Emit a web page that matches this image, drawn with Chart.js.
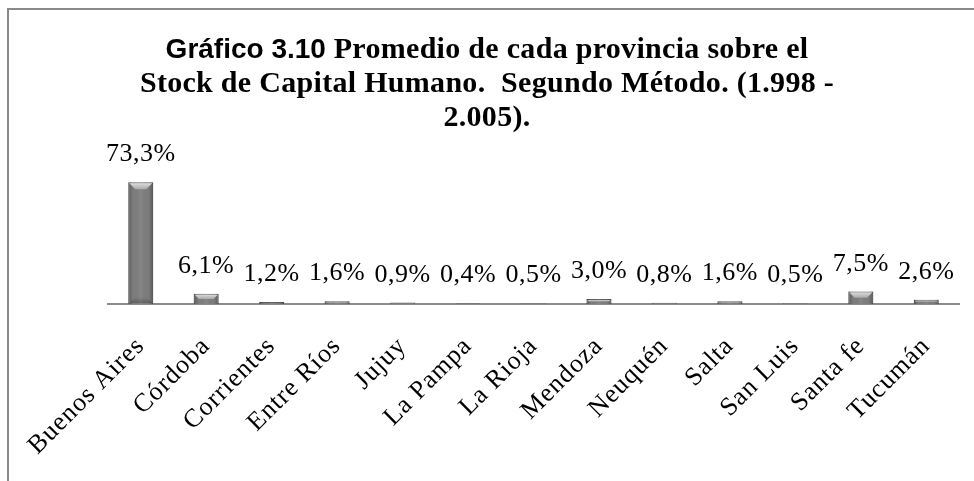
<!DOCTYPE html>
<html><head><meta charset="utf-8">
<script src="https://cdn.jsdelivr.net/npm/chart.js@4/dist/chart.umd.min.js"></script>
<style>html,body{margin:0;padding:0;background:#fff}#wrap{position:relative;width:974px;height:481px}</style>
</head><body><div id="wrap"><canvas id="c" width="974" height="481"></canvas></div>
<script>
const categories = ['Buenos Aires','Córdoba','Corrientes','Entre Ríos','Jujuy','La Pampa','La Rioja','Mendoza','Neuquén','Salta','San Luis','Santa fe','Tucumán'];
const values = [73.3,6.1,1.2,1.6,0.9,0.4,0.5,3.0,0.8,1.6,0.5,7.5,2.6];
const titleLead = 'Gráfico 3.10';
const titleLines = [' Promedio de cada provincia sobre el','Stock de Capital Humano.  Segundo Método. (1.998 -','2.005).'];

function fmt(v){ return v.toFixed(1).replace('.', ',') + '%'; }

const framePlugin = {
  id:'frame',
  beforeDraw(chart){
    const ctx = chart.ctx;
    ctx.save();
    ctx.fillStyle='#fff'; ctx.fillRect(0,0,chart.width,chart.height);
    ctx.fillStyle='#8a8a8a';
    ctx.fillRect(7,8,967,2);
    ctx.fillRect(7,8,2,473);
    ctx.restore();
  }
};
const spacingPlugin = {
  id:'spacing',
  beforeUpdate(chart){ chart.ctx.letterSpacing='1px'; },
  beforeDraw(chart){ chart.ctx.letterSpacing='1px'; }
};
const titlePlugin = {
  id:'titleMixed',
  afterDraw(chart){
    const ctx = chart.ctx; ctx.save();
    ctx.fillStyle='#000'; ctx.textBaseline='alphabetic'; ctx.textAlign='left';
    const cx = 487;
    const sans = 'bold 28px "Liberation Sans", Arial, sans-serif';
    const serif = 'bold 30px "Liberation Serif", "Times New Roman", serif';
    ctx.letterSpacing='0px'; ctx.font=sans; const w1 = ctx.measureText(titleLead).width;
    ctx.letterSpacing='0.3px'; ctx.font=serif; const w2 = ctx.measureText(titleLines[0]).width;
    const x = cx - (w1+w2)/2;
    ctx.letterSpacing='0px'; ctx.font=sans; ctx.fillText(titleLead, x, 58);
    ctx.letterSpacing='0.3px'; ctx.font=serif; ctx.fillText(titleLines[0], x+w1, 58);
    ctx.textAlign='center';
    ctx.fillText(titleLines[1], cx, 92);
    ctx.fillText(titleLines[2], cx, 126);
    ctx.restore();
  }
};
const barPlugin = {
  id:'bevelLabels',
  afterDatasetsDraw(chart){
    const ctx = chart.ctx;
    const meta = chart.getDatasetMeta(0);
    meta.data.forEach((bar, i) => {
      const w = bar.width, l = bar.x - w/2, r = bar.x + w/2, top = bar.y, base = bar.base;
      const h = base - top;
      ctx.save();
      if (h > 1.5) {
        const g = ctx.createLinearGradient(l,0,r,0);
        g.addColorStop(0,'rgba(0,0,0,0.28)');
        g.addColorStop(0.2,'rgba(0,0,0,0)');
        g.addColorStop(0.5,'rgba(255,255,255,0.08)');
        g.addColorStop(0.8,'rgba(0,0,0,0)');
        g.addColorStop(1,'rgba(0,0,0,0.28)');
        ctx.fillStyle=g; ctx.fillRect(l,top,w,h);
        const b = Math.min(7, h/2, w/3);
        const g2 = ctx.createLinearGradient(0,top,0,top+b);
        g2.addColorStop(0,'#e4e4e4'); g2.addColorStop(1,'#a8a8a8');
        ctx.fillStyle=g2;
        ctx.beginPath(); ctx.moveTo(l+1,top+1); ctx.lineTo(r-1,top+1); ctx.lineTo(r-b,top+b); ctx.lineTo(l+b,top+b); ctx.closePath(); ctx.fill();
        if (h > 20) {
          const g3 = ctx.createLinearGradient(0,base-b,0,base);
          g3.addColorStop(0,'rgba(0,0,0,0)'); g3.addColorStop(1,'rgba(0,0,0,0.25)');
          ctx.fillStyle=g3;
          ctx.beginPath(); ctx.moveTo(l+b,base-b); ctx.lineTo(r-b,base-b); ctx.lineTo(r-1,base-1); ctx.lineTo(l+1,base-1); ctx.closePath(); ctx.fill();
        }
      }
      ctx.fillStyle='#000';
      ctx.font='26px "Liberation Serif", "Times New Roman", serif';
      ctx.letterSpacing='0.5px';
      ctx.textAlign='center'; ctx.textBaseline='alphabetic';
      ctx.fillText(fmt(values[i]), bar.x, top - 21);
      ctx.restore();
    });
  }
};

new Chart(document.getElementById('c'), {
  type:'bar',
  data:{ labels:categories, datasets:[{ data:values, backgroundColor:'#7d7d7d', borderColor:'#5e5e5e', borderWidth:1, barPercentage:0.38, categoryPercentage:1 }] },
  options:{
    responsive:false, animation:false, devicePixelRatio:1,
    layout:{ padding:{ left:108, right:15, top:138, bottom:0 } },
    plugins:{ legend:{display:false}, tooltip:{enabled:false}, title:{display:false} },
    scales:{
      x:{
        grid:{display:false},
        border:{display:true, color:'#8c8c8c', width:2},
        ticks:{ color:'#000', font:{family:'"Liberation Serif", "Times New Roman", serif', size:26}, minRotation:45, maxRotation:45, padding:19, autoSkip:false },
        afterFit(s){ s.height = 177; s.paddingLeft = 0; s.paddingRight = 0; }
      },
      y:{ display:false, min:0, max:100 }
    }
  },
  plugins:[framePlugin, spacingPlugin, titlePlugin, barPlugin]
});
</script>
</body></html>
